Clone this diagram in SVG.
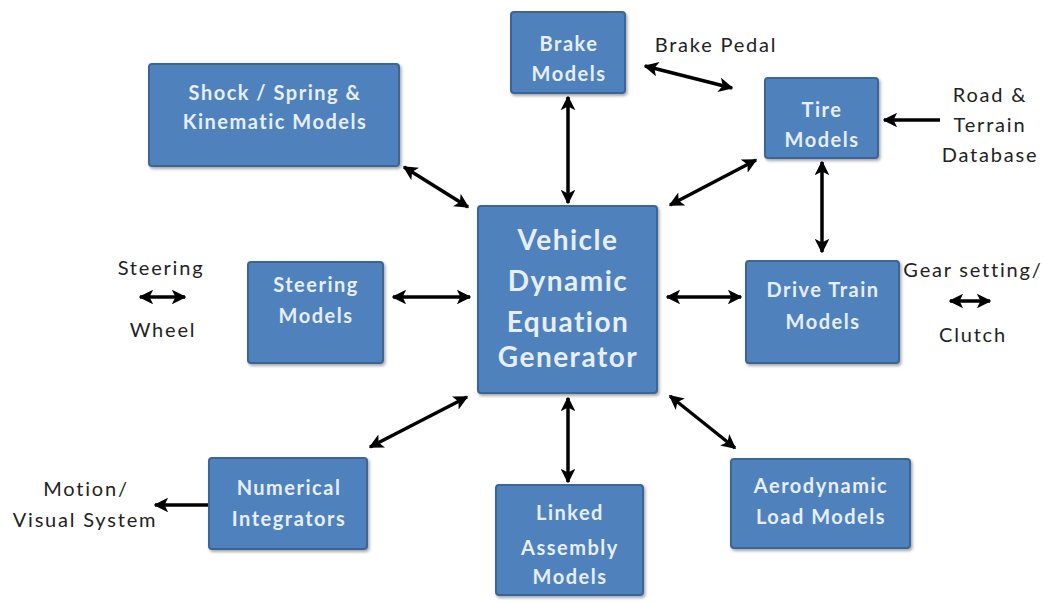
<svg xmlns="http://www.w3.org/2000/svg" width="1044" height="603" viewBox="0 0 1044 603">
<defs>
<marker id="ah" viewBox="0 0 10 10" refX="9" refY="5" markerWidth="4.2" markerHeight="4.2" orient="auto-start-reverse" markerUnits="strokeWidth">
<path d="M0,0 L10,5 L0,10 L2.5,5 z" fill="#000"/>
</marker>
<filter id="sh" x="-10%" y="-10%" width="130%" height="130%">
<feDropShadow dx="1.5" dy="2" stdDeviation="1.5" flood-color="#000" flood-opacity="0.35"/>
</filter>
</defs>
<style>
.box{fill:#4F81BD;stroke:#3A6594;stroke-width:2;filter:url(#sh)}
.bt{font-family:Lato,"Open Sans","Liberation Sans",sans-serif;font-weight:bold;font-size:20px;letter-spacing:1.5px;fill:#E6EFF9;text-anchor:middle}
.big{font-size:28px;letter-spacing:1.5px}
.lbl{font-family:Lato,"Open Sans","Liberation Sans",sans-serif;font-size:20px;letter-spacing:1.8px;fill:#222;text-anchor:middle}
.c{stroke:#000;stroke-width:3.5;fill:none}
.d{marker-start:url(#ah);marker-end:url(#ah)}
.s{marker-end:url(#ah)}
</style>
<rect width="1044" height="603" fill="#fff"/>

<g id="connectors">
<line class="c d" x1="568" y1="97" x2="568" y2="203"/>
<line class="c d" x1="404" y1="167" x2="468" y2="207"/>
<line class="c d" x1="756" y1="160" x2="670" y2="205"/>
<line class="c d" x1="822" y1="162" x2="822" y2="252"/>
<line class="c d" x1="645" y1="66" x2="732" y2="88"/>
<line class="c s" x1="940" y1="120" x2="884" y2="120"/>
<line class="c d" x1="393" y1="297" x2="470" y2="297"/>
<line class="c d" x1="667" y1="297" x2="741" y2="297"/>
<line class="c d" x1="140" y1="297" x2="185" y2="297"/>
<line class="c d" x1="950" y1="301" x2="990" y2="301"/>
<line class="c d" x1="467" y1="397" x2="370" y2="447"/>
<line class="c d" x1="568" y1="398" x2="568" y2="482"/>
<line class="c d" x1="670" y1="396" x2="735" y2="448"/>
<line class="c s" x1="209" y1="505" x2="155" y2="505"/>
</g>

<g id="brake">
<rect class="box" x="511" y="12" width="114" height="81" rx="3"/>
<text class="bt" x="569" y="51">Brake</text>
<text class="bt" x="569" y="81">Models</text>
</g>
<g id="shock">
<rect class="box" x="149" y="64" width="250" height="102" rx="3"/>
<text class="bt" x="275" y="100">Shock / Spring &amp;</text>
<text class="bt" x="275" y="129">Kinematic Models</text>
</g>
<g id="tire">
<rect class="box" x="765" y="78" width="113" height="80" rx="3"/>
<text class="bt" x="822" y="117">Tire</text>
<text class="bt" x="822" y="147">Models</text>
</g>
<g id="main">
<rect class="box" x="478" y="206" width="179" height="187" rx="3"/>
<text class="bt big" x="568" y="250">Vehicle</text>
<text class="bt big" x="568" y="291">Dynamic</text>
<text class="bt big" x="568" y="332">Equation</text>
<text class="bt big" x="568" y="367">Generator</text>
</g>
<g id="steering">
<rect class="box" x="248" y="262" width="135" height="101" rx="3"/>
<text class="bt" x="316" y="292">Steering</text>
<text class="bt" x="316" y="323">Models</text>
</g>
<g id="drivetrain">
<rect class="box" x="746" y="261" width="153" height="102" rx="3"/>
<text class="bt" x="823" y="297">Drive Train</text>
<text class="bt" x="823" y="329">Models</text>
</g>
<g id="numerical">
<rect class="box" x="209" y="458" width="158" height="91" rx="3"/>
<text class="bt" x="289" y="495">Numerical</text>
<text class="bt" x="289" y="526">Integrators</text>
</g>
<g id="linked">
<rect class="box" x="496" y="485" width="147" height="110" rx="3"/>
<text class="bt" x="570" y="520">Linked</text>
<text class="bt" x="570" y="555">Assembly</text>
<text class="bt" x="570" y="584">Models</text>
</g>
<g id="aero">
<rect class="box" x="731" y="459" width="179" height="89" rx="3"/>
<text class="bt" x="821" y="493">Aerodynamic</text>
<text class="bt" x="821" y="524">Load Models</text>
</g>

<g id="labels">
<text class="lbl" x="716" y="52">Brake Pedal</text>
<text class="lbl" x="990" y="102">Road &amp;</text>
<text class="lbl" x="990" y="132">Terrain</text>
<text class="lbl" x="990" y="162">Database</text>
<text class="lbl" x="161" y="275">Steering</text>
<text class="lbl" x="163" y="337">Wheel</text>
<text class="lbl" x="973" y="277">Gear setting/</text>
<text class="lbl" x="973" y="342">Clutch</text>
<text class="lbl" x="86" y="496">Motion/</text>
<text class="lbl" x="85" y="527">Visual System</text>
</g>
</svg>
